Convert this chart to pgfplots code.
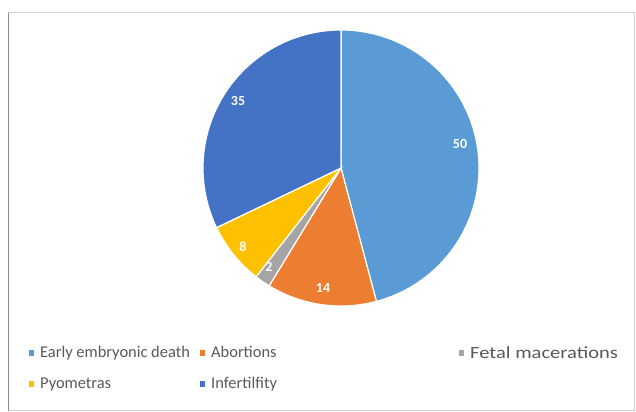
\documentclass[border=0pt]{standalone}
\usepackage{pgfplots}
\usepackage{pgfplotstable}
\pgfplotsset{compat=1.18}
\usepackage{fontspec}
\setmainfont{Carlito}
\definecolor{cA}{HTML}{5B9BD5}
\definecolor{cB}{HTML}{ED7D31}
\definecolor{cC}{HTML}{A5A5A5}
\definecolor{cD}{HTML}{FFC000}
\definecolor{cE}{HTML}{4472C4}
\definecolor{legtext}{HTML}{595959}
\pgfplotstableread{
value
50
14
2
8
35
}\piedata
\pgfplotstablegetelem{0}{value}\of\piedata \let\va\pgfplotsretval
\pgfplotstablegetelem{1}{value}\of\piedata \let\vb\pgfplotsretval
\pgfplotstablegetelem{2}{value}\of\piedata \let\vc\pgfplotsretval
\pgfplotstablegetelem{3}{value}\of\piedata \let\vd\pgfplotsretval
\pgfplotstablegetelem{4}{value}\of\piedata \let\ve\pgfplotsretval
\pgfmathsetmacro\tot{\va+\vb+\vc+\vd+\ve}
\pgfmathsetmacro\aA{90}
\pgfmathsetmacro\aB{\aA-360*(\va/\tot)}
\pgfmathsetmacro\aC{\aB-360*(\vb/\tot)}
\pgfmathsetmacro\aD{\aC-360*(\vc/\tot)}
\pgfmathsetmacro\aE{\aD-360*(\vd/\tot)}
\pgfmathsetmacro\aF{\aE-360*(\ve/\tot)}
\begin{document}%
\begin{tikzpicture}
\begin{axis}[
  width=636bp, height=412bp, scale only axis,
  xmin=0, xmax=636, ymin=0, ymax=412,
  hide axis, clip=false,
  legend columns=3,
  legend image code/.code={\fill[#1,draw=none] (0bp,-3bp) rectangle (5bp,3bp);},
  legend style={at={(axis cs:29,66)}, anchor=north west, draw=none, fill=none,
    inner sep=0pt, row sep=18bp,
    font=\fontsize{16.5}{19}\selectfont\color{legtext},
    nodes={inner sep=0pt},
    /tikz/every odd column/.append style={column sep=6bp}},
  pieslice/.style={draw=white, line width=1.2bp, samples=90, variable=\t},
]
\path (axis cs:0,0) rectangle (axis cs:636,412);
\draw[black!18, line width=1bp] (axis cs:8.5,1) rectangle (axis cs:634.5,399);
\draw[black!45, line width=1.5bp] (axis cs:8.5,1) -- (axis cs:8.5,399);

\addplot[pieslice, fill=cA, domain=\aB:\aA] ({341+138*cos(\t)},{244+138*sin(\t)}) -- (axis cs:341,244) -- cycle;
\addlegendentry{\makebox[160bp][l]{Early embryonic death}}
\addplot[pieslice, fill=cB, domain=\aC:\aB] ({341+138*cos(\t)},{244+138*sin(\t)}) -- (axis cs:341,244) -- cycle;
\addlegendentry{\makebox[248bp][l]{Abortions}}
\addplot[pieslice, fill=cC, domain=\aD:\aC] ({341+138*cos(\t)},{244+138*sin(\t)}) -- (axis cs:341,244) -- cycle;
\addlegendentry{\scalebox{1.25}[1.04]{Fetal macerations}}
\addplot[pieslice, fill=cD, domain=\aE:\aD] ({341+138*cos(\t)},{244+138*sin(\t)}) -- (axis cs:341,244) -- cycle;
\addlegendentry{\makebox[160bp][l]{Pyometras}}
\addplot[pieslice, fill=cE, domain=\aF:\aE] ({341+138*cos(\t)},{244+138*sin(\t)}) -- (axis cs:341,244) -- cycle;
\addlegendentry{\makebox[248bp][l]{Infertilfity}}

\begin{scope}[every node/.style={text=white, font=\fontsize{14}{16}\selectfont\bfseries}]
\node at (axis cs:460,268) {\va};
\node at (axis cs:323,124) {\vb};
\node at (axis cs:269,145) {\vc};
\node at (axis cs:243,165) {\vd};
\node at (axis cs:238,311) {\ve};
\end{scope}
\end{axis}
\end{tikzpicture}%
\end{document}
